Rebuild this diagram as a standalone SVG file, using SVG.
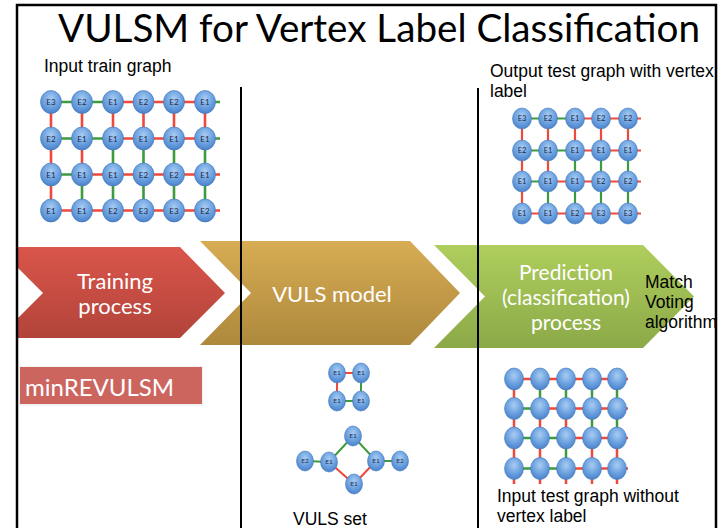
<svg xmlns="http://www.w3.org/2000/svg" width="720" height="528" viewBox="0 0 720 528">
<defs>
<radialGradient id="nodeG" cx="50%" cy="35%" r="65%">
<stop offset="0" stop-color="#a9ccf2"/>
<stop offset="0.55" stop-color="#6fa4e1"/>
<stop offset="1" stop-color="#4a82cb"/>
</radialGradient>
<linearGradient id="redG" x1="0" y1="0" x2="0" y2="1">
<stop offset="0" stop-color="#da554b"/>
<stop offset="1" stop-color="#b2443a"/>
</linearGradient>
<linearGradient id="goldG" x1="0" y1="0" x2="0" y2="1">
<stop offset="0" stop-color="#d7ac53"/>
<stop offset="1" stop-color="#ae893d"/>
</linearGradient>
<linearGradient id="greenG" x1="0" y1="0" x2="0" y2="1">
<stop offset="0" stop-color="#afce5d"/>
<stop offset="1" stop-color="#8ba947"/>
</linearGradient>
</defs>
<style>
.n ellipse{fill:url(#nodeG);stroke:#4277ba;stroke-width:0.6}
.n text{font-family:Lato,"Liberation Sans",sans-serif;fill:#1c2a48;text-anchor:middle}
.a text{font-size:8px}
.b text{font-size:7.5px}
.d text{font-size:6.5px}
.r{stroke:#f0483a;fill:none}
.g{stroke:#3c9b3c;fill:none}
.lbl{font-family:"Liberation Sans",Arial,sans-serif;font-size:17.5px;fill:#000}
.big{font-family:Lato,"Open Sans",sans-serif;fill:#fff;text-anchor:middle}
</style>
<rect width="720" height="528" fill="#fff"/>

<text x="379" y="42" font-family="Lato,'Open Sans',sans-serif" font-size="38" fill="#000" text-anchor="middle" textLength="642" lengthAdjust="spacingAndGlyphs">VULSM for Vertex Label Classification</text>
<text class="lbl" x="44" y="72">Input train graph</text>
<text class="lbl" x="490" y="77">Output test graph with vertex</text>
<text class="lbl" x="490" y="97">label</text>

<g id="arrow-training">
<polygon points="18,247 180,247 225,293 180,338 18,338 18,318 43,293 18,268" fill="url(#redG)"/>
<text class="big" x="115" y="288.5" font-size="22">Training</text>
<text class="big" x="115" y="313.5" font-size="22">process</text>
</g>
<g id="arrow-model">
<polygon points="200,241 410,241 460,293 410,345 200,345 251,293" fill="url(#goldG)"/>
<text class="big" x="332" y="302" font-size="22">VULS model</text>
</g>
<g id="arrow-prediction">
<polygon points="434,245 643,245 694,296.5 643,348 434,348 485,296.5" fill="url(#greenG)"/>
<text class="big" x="566" y="280" font-size="21">Prediction</text>
<text class="big" x="566" y="305" font-size="21">(classification)</text>
<text class="big" x="566" y="330" font-size="21">process</text>
</g>
<text class="lbl" x="645" y="288">Match</text>
<text class="lbl" x="645" y="308">Voting</text>
<text class="lbl" x="645" y="328">algorithm</text>

<g id="minREVULSM">
<rect x="19" y="366" width="184" height="40" fill="#f2f2f2"/>
<rect x="20" y="367" width="182" height="37" fill="#cd655f"/>
<text x="25" y="396" font-family="Lato,'Open Sans',sans-serif" font-size="24" fill="#fff">minREVULSM</text>
</g>

<g id="frame" stroke="#000" fill="none">
<rect x="17" y="5" width="699" height="530" stroke-width="2.5"/>
<line x1="241" y1="87" x2="241" y2="528" stroke-width="2"/>
<line x1="478" y1="88" x2="478" y2="528" stroke-width="2"/>
</g>

<g id="connectors">
<g stroke-width="2.6">
<path class="r" d="M113 102H205M113 138.5H205M82 174.5H220M51 210.5H220M51 102V210.5M82 102V174.5M113 102V138.5M143.5 102V138.5M174 102V138.5M205 102V138.5"/>
<path class="g" d="M51 102H113M205 102H220M51 138.5H113M205 138.5H220M51 174.5H82M82 174.5V210.5M113 138.5V210.5M143.5 138.5V210.5M174 138.5V210.5M205 138.5V210.5"/>
</g>
<g stroke-width="2.2">
<path class="r" d="M575 118.5H641M575 150.5H641M548 181.5H641M522 213.5H641M522 118.5V213.5M548 118.5V181.5M575 118.5V150.5M601 118.5V150.5M628 118.5V150.5"/>
<path class="g" d="M522 118.5H575M522 150.5H575M522 181.5H548M548 181.5V213.5M575 150.5V213.5M601 150.5V213.5M628 150.5V213.5"/>
</g>
<g stroke-width="2.5">
<path class="r" d="M514 379H628M540 408.5H628M566 438H628M566 468.5H628M514 379V484M540 408.5V484M566 408.5V438M566 468.5V484M592 438V484M617 438V484"/>
<path class="g" d="M514 408.5H540M514 438H566M514 468.5H566M540 379V408.5M566 379V408.5M566 438V468.5M592 379V438M617 379V438"/>
</g>
<g stroke-width="2">
<path class="r" d="M337 401V373H361M329 462L354 484L376 461"/>
<path class="g" d="M361 373V401H337M305 461L329 462L353 436L376 461L400 461"/>
</g>
</g>

<g id="train-graph" class="n a">
<g id="a00"><ellipse cx="51" cy="102" rx="10.5" ry="11.5"/><text x="51" y="105">E3</text></g>
<g id="a01"><ellipse cx="82" cy="102" rx="10.5" ry="11.5"/><text x="82" y="105">E2</text></g>
<g id="a02"><ellipse cx="113" cy="102" rx="10.5" ry="11.5"/><text x="113" y="105">E1</text></g>
<g id="a03"><ellipse cx="143.5" cy="102" rx="10.5" ry="11.5"/><text x="143.5" y="105">E2</text></g>
<g id="a04"><ellipse cx="174" cy="102" rx="10.5" ry="11.5"/><text x="174" y="105">E2</text></g>
<g id="a05"><ellipse cx="205" cy="102" rx="10.5" ry="11.5"/><text x="205" y="105">E1</text></g>
<g id="a10"><ellipse cx="51" cy="138.5" rx="10.5" ry="11.5"/><text x="51" y="141.5">E2</text></g>
<g id="a11"><ellipse cx="82" cy="138.5" rx="10.5" ry="11.5"/><text x="82" y="141.5">E1</text></g>
<g id="a12"><ellipse cx="113" cy="138.5" rx="10.5" ry="11.5"/><text x="113" y="141.5">E1</text></g>
<g id="a13"><ellipse cx="143.5" cy="138.5" rx="10.5" ry="11.5"/><text x="143.5" y="141.5">E1</text></g>
<g id="a14"><ellipse cx="174" cy="138.5" rx="10.5" ry="11.5"/><text x="174" y="141.5">E1</text></g>
<g id="a15"><ellipse cx="205" cy="138.5" rx="10.5" ry="11.5"/><text x="205" y="141.5">E1</text></g>
<g id="a20"><ellipse cx="51" cy="174.5" rx="10.5" ry="11.5"/><text x="51" y="177.5">E1</text></g>
<g id="a21"><ellipse cx="82" cy="174.5" rx="10.5" ry="11.5"/><text x="82" y="177.5">E1</text></g>
<g id="a22"><ellipse cx="113" cy="174.5" rx="10.5" ry="11.5"/><text x="113" y="177.5">E1</text></g>
<g id="a23"><ellipse cx="143.5" cy="174.5" rx="10.5" ry="11.5"/><text x="143.5" y="177.5">E2</text></g>
<g id="a24"><ellipse cx="174" cy="174.5" rx="10.5" ry="11.5"/><text x="174" y="177.5">E2</text></g>
<g id="a25"><ellipse cx="205" cy="174.5" rx="10.5" ry="11.5"/><text x="205" y="177.5">E1</text></g>
<g id="a30"><ellipse cx="51" cy="210.5" rx="10.5" ry="11.5"/><text x="51" y="213.5">E1</text></g>
<g id="a31"><ellipse cx="82" cy="210.5" rx="10.5" ry="11.5"/><text x="82" y="213.5">E1</text></g>
<g id="a32"><ellipse cx="113" cy="210.5" rx="10.5" ry="11.5"/><text x="113" y="213.5">E2</text></g>
<g id="a33"><ellipse cx="143.5" cy="210.5" rx="10.5" ry="11.5"/><text x="143.5" y="213.5">E3</text></g>
<g id="a34"><ellipse cx="174" cy="210.5" rx="10.5" ry="11.5"/><text x="174" y="213.5">E3</text></g>
<g id="a35"><ellipse cx="205" cy="210.5" rx="10.5" ry="11.5"/><text x="205" y="213.5">E2</text></g>
</g>

<g id="output-graph" class="n b">
<g id="b00"><ellipse cx="522" cy="118.5" rx="9.5" ry="10.5"/><text x="522" y="121.3">E3</text></g>
<g id="b01"><ellipse cx="548" cy="118.5" rx="9.5" ry="10.5"/><text x="548" y="121.3">E2</text></g>
<g id="b02"><ellipse cx="575" cy="118.5" rx="9.5" ry="10.5"/><text x="575" y="121.3">E1</text></g>
<g id="b03"><ellipse cx="601" cy="118.5" rx="9.5" ry="10.5"/><text x="601" y="121.3">E2</text></g>
<g id="b04"><ellipse cx="628" cy="118.5" rx="9.5" ry="10.5"/><text x="628" y="121.3">E2</text></g>
<g id="b10"><ellipse cx="522" cy="150.5" rx="9.5" ry="10.5"/><text x="522" y="153.3">E2</text></g>
<g id="b11"><ellipse cx="548" cy="150.5" rx="9.5" ry="10.5"/><text x="548" y="153.3">E1</text></g>
<g id="b12"><ellipse cx="575" cy="150.5" rx="9.5" ry="10.5"/><text x="575" y="153.3">E1</text></g>
<g id="b13"><ellipse cx="601" cy="150.5" rx="9.5" ry="10.5"/><text x="601" y="153.3">E1</text></g>
<g id="b14"><ellipse cx="628" cy="150.5" rx="9.5" ry="10.5"/><text x="628" y="153.3">E1</text></g>
<g id="b20"><ellipse cx="522" cy="181.5" rx="9.5" ry="10.5"/><text x="522" y="184.3">E1</text></g>
<g id="b21"><ellipse cx="548" cy="181.5" rx="9.5" ry="10.5"/><text x="548" y="184.3">E1</text></g>
<g id="b22"><ellipse cx="575" cy="181.5" rx="9.5" ry="10.5"/><text x="575" y="184.3">E1</text></g>
<g id="b23"><ellipse cx="601" cy="181.5" rx="9.5" ry="10.5"/><text x="601" y="184.3">E2</text></g>
<g id="b24"><ellipse cx="628" cy="181.5" rx="9.5" ry="10.5"/><text x="628" y="184.3">E2</text></g>
<g id="b30"><ellipse cx="522" cy="213.5" rx="9.5" ry="10.5"/><text x="522" y="216.3">E1</text></g>
<g id="b31"><ellipse cx="548" cy="213.5" rx="9.5" ry="10.5"/><text x="548" y="216.3">E1</text></g>
<g id="b32"><ellipse cx="575" cy="213.5" rx="9.5" ry="10.5"/><text x="575" y="216.3">E2</text></g>
<g id="b33"><ellipse cx="601" cy="213.5" rx="9.5" ry="10.5"/><text x="601" y="216.3">E3</text></g>
<g id="b34"><ellipse cx="628" cy="213.5" rx="9.5" ry="10.5"/><text x="628" y="216.3">E3</text></g>
</g>

<g id="input-test-graph" class="n">
<g id="c00"><ellipse cx="514" cy="379" rx="9.5" ry="11"/></g>
<g id="c01"><ellipse cx="540" cy="379" rx="9.5" ry="11"/></g>
<g id="c02"><ellipse cx="566" cy="379" rx="9.5" ry="11"/></g>
<g id="c03"><ellipse cx="592" cy="379" rx="9.5" ry="11"/></g>
<g id="c04"><ellipse cx="617" cy="379" rx="9.5" ry="11"/></g>
<g id="c10"><ellipse cx="514" cy="408.5" rx="9.5" ry="11"/></g>
<g id="c11"><ellipse cx="540" cy="408.5" rx="9.5" ry="11"/></g>
<g id="c12"><ellipse cx="566" cy="408.5" rx="9.5" ry="11"/></g>
<g id="c13"><ellipse cx="592" cy="408.5" rx="9.5" ry="11"/></g>
<g id="c14"><ellipse cx="617" cy="408.5" rx="9.5" ry="11"/></g>
<g id="c20"><ellipse cx="514" cy="438" rx="9.5" ry="11"/></g>
<g id="c21"><ellipse cx="540" cy="438" rx="9.5" ry="11"/></g>
<g id="c22"><ellipse cx="566" cy="438" rx="9.5" ry="11"/></g>
<g id="c23"><ellipse cx="592" cy="438" rx="9.5" ry="11"/></g>
<g id="c24"><ellipse cx="617" cy="438" rx="9.5" ry="11"/></g>
<g id="c30"><ellipse cx="514" cy="468.5" rx="9.5" ry="11"/></g>
<g id="c31"><ellipse cx="540" cy="468.5" rx="9.5" ry="11"/></g>
<g id="c32"><ellipse cx="566" cy="468.5" rx="9.5" ry="11"/></g>
<g id="c33"><ellipse cx="592" cy="468.5" rx="9.5" ry="11"/></g>
<g id="c34"><ellipse cx="617" cy="468.5" rx="9.5" ry="11"/></g>
</g>

<g id="vuls-set" class="n d">
<g id="d0"><ellipse cx="337" cy="373" rx="8.5" ry="10"/><text x="337" y="375.4">E1</text></g>
<g id="d1"><ellipse cx="361" cy="373" rx="8.5" ry="10"/><text x="361" y="375.4">E1</text></g>
<g id="d2"><ellipse cx="337" cy="401" rx="8.5" ry="10"/><text x="337" y="403.4">E1</text></g>
<g id="d3"><ellipse cx="361" cy="401" rx="8.5" ry="10"/><text x="361" y="403.4">E1</text></g>
<g id="e0"><ellipse cx="305" cy="461" rx="8.5" ry="10"/><text x="305" y="463.4">E2</text></g>
<g id="e1"><ellipse cx="329" cy="462" rx="8.5" ry="10"/><text x="329" y="464.4">E1</text></g>
<g id="e2"><ellipse cx="353" cy="436" rx="8.5" ry="10"/><text x="353" y="438.4">E1</text></g>
<g id="e3"><ellipse cx="376" cy="461" rx="8.5" ry="10"/><text x="376" y="463.4">E1</text></g>
<g id="e4"><ellipse cx="400" cy="461" rx="8.5" ry="10"/><text x="400" y="463.4">E2</text></g>
<g id="e5"><ellipse cx="354" cy="484" rx="8.5" ry="10"/><text x="354" y="486.4">E1</text></g>
</g>

<text class="lbl" x="293" y="525">VULS set</text>
<text class="lbl" x="497" y="502">Input test graph without</text>
<text class="lbl" x="497" y="522">vertex label</text>
</svg>
